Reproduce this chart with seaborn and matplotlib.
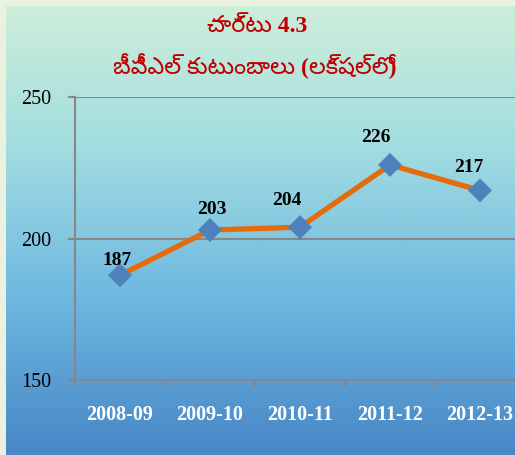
import numpy as np
import pandas as pd
import matplotlib
matplotlib.use("Agg")
import matplotlib.pyplot as plt
from matplotlib.colors import LinearSegmentedColormap
from matplotlib.ticker import FixedLocator, NullFormatter
import seaborn as sns

years = ["2008-09", "2009-10", "2010-11", "2011-12", "2012-13"]
households = [187, 203, 204, 226, 217]
yticks = [150, 200, 250]
title_line1 = "చార్టు 4.3"
title_line2 = "బీపీఎల్ కుటుంబాలు (లక్షల్లో)"

sns.set_theme(style="white")
plt.rcParams["font.family"] = ["Liberation Serif", "DejaVu Serif", "DejaVu Sans"]

W, H = 515, 455
fig = plt.figure(figsize=(W / 100, H / 100), dpi=100)
fig.patch.set_facecolor("#EAF1DE")

# gradient background panel
bg = fig.add_axes([6 / W, 0, 1 - 6 / W, 1 - 6 / H])
bg.set_axis_off()
cmap = LinearSegmentedColormap.from_list(
    "g", [(0, "#CDEED9"), (0.3, "#A4DEE0"), (0.65, "#6EB8E0"), (1, "#4886C6")])
grad = np.linspace(0, 1, 256).reshape(-1, 1)
bg.imshow(grad, aspect="auto", cmap=cmap, extent=[0, 1, 0, 1], origin="upper")
bg.set_zorder(0)

ax = fig.add_axes([75 / W, 75 / H, 450 / W, 283 / H])
ax.set_zorder(1)
ax.patch.set_alpha(0)

df = pd.DataFrame({"year": years, "value": households})
sns.lineplot(data=df, x="year", y="value", ax=ax, color="#E46C0A", lw=3.8,
             sort=False, zorder=2)
sns.scatterplot(data=df, x="year", y="value", ax=ax, marker="D", s=150,
                color="#4F81BD", edgecolor="none", zorder=3)

offsets = [(-3, 15), (2, 21), (-13, 27), (-14, 27), (-11, 23)]
for i, (v, off) in enumerate(zip(households, offsets)):
    ax.annotate(str(v), (i, v), xytext=(off[0] * 0.72, off[1] * 0.72),
                textcoords="offset points", ha="center", va="center",
                fontsize=14, fontweight="bold", color="black")

ax.set_xlim(-0.5, 4.5)
ax.set_ylim(150, 250)
ax.set_yticks(yticks)
ax.set_xticks(range(len(years)))
ax.set_xticklabels(years, fontsize=14.5, fontweight="bold", color="white")
ax.tick_params(axis="x", which="major", length=0, pad=18)
ax.xaxis.set_minor_locator(FixedLocator([-0.5, 0.5, 1.5, 2.5, 3.5, 4.5]))
ax.xaxis.set_minor_formatter(NullFormatter())
ax.tick_params(axis="x", which="minor", length=5, width=1.5, color="#878787",
               direction="out", bottom=True)
ax.tick_params(axis="y", length=5, width=1.5, color="#878787", direction="out",
               labelsize=14.5, labelcolor="black", pad=12, left=True)
ax.set_xlabel("")
ax.set_ylabel("")
ax.grid(axis="y", color="#878787", lw=1.5)
ax.grid(axis="x", visible=False)
for s in ["top", "right"]:
    ax.spines[s].set_visible(False)
for s in ["left", "bottom"]:
    ax.spines[s].set_color("#878787")
    ax.spines[s].set_linewidth(1.5)

tfam = ["Liberation Serif", "Noto Sans Telugu", "DejaVu Sans"]
fig.text(257 / W, 1 - 27 / H, title_line1, ha="center", va="center",
         fontsize=17, fontweight="bold", color="#C00000", family=tfam)
fig.text(255 / W, 1 - 66 / H, title_line2, ha="center", va="center",
         fontsize=17, fontweight="bold", color="#C00000", family=tfam)

fig.savefig("out.png", dpi=100, facecolor=fig.get_facecolor())
